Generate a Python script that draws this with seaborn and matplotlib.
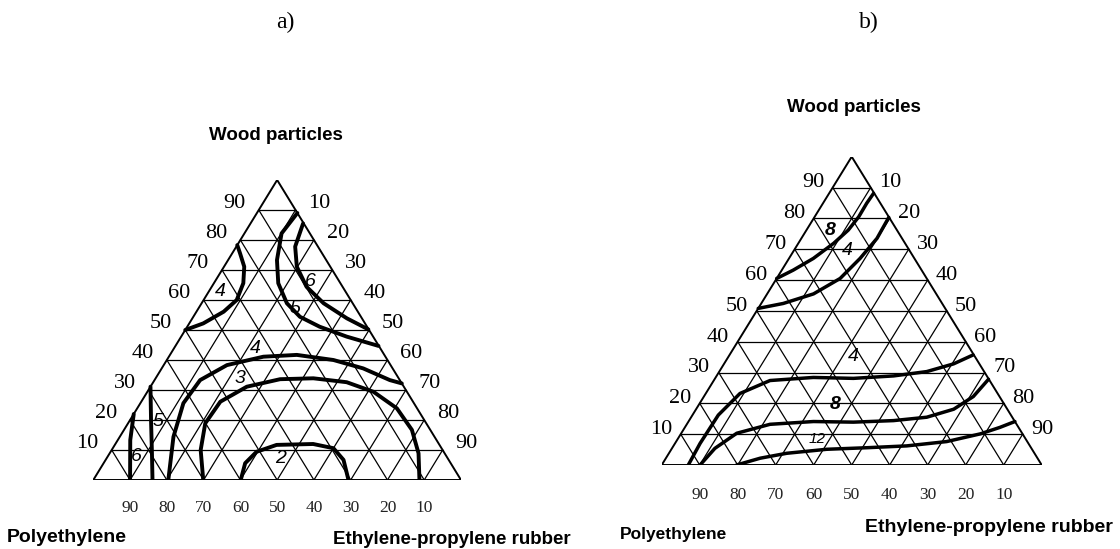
import matplotlib
matplotlib.use("Agg")
import matplotlib.pyplot as plt
import seaborn as sns

sns.set_theme(style="white")
plt.rcParams["font.family"] = ["Liberation Sans", "DejaVu Sans"]
plt.rcParams["text.color"] = "black"

# axis names and tick values
apex_name = "Wood particles"
left_name = "Polyethylene"
right_name = "Ethylene-propylene rubber"
ticks = [10, 20, 30, 40, 50, 60, 70, 80, 90]

# panel a) isolines, read as (wood %, rubber %)
a4_top_wood = [50, 52.2, 56.1, 60, 65.6, 71.1, 75.6, 78.3]
a4_top_rubber = [0, 3.8, 7.4, 9, 8, 5.5, 2.1, 0]
a5_right_wood = [89, 82.2, 73.3, 65.6, 58.9, 54.4, 51.1, 47.8, 44.7]
a5_right_rubber = [11, 10.1, 13.3, 17.5, 23.2, 29, 36, 45, 55.2]
a6_right_wood = [85.5, 77.8, 71.1, 64.4, 58.9, 53.9, 50.2]
a6_right_rubber = [14.3, 16, 19.8, 25.8, 33.2, 42, 49.7]
a4_mid_wood = [0, 14.4, 25.6, 33.3, 38.3, 41.1, 41.7, 40, 37.2, 33.3, 32.2]
a4_mid_rubber = [20.4, 14.6, 11.7, 12.4, 17.2, 25.7, 34.5, 45.3, 54.8, 64, 67.8]
a3_wood = [0, 10, 18.9, 26.1, 31.1, 33.6, 33.9, 32.6, 29.4, 23.9, 16.7, 8.9, 0]
a3_rubber = [29.9, 24.2, 21, 21.5, 26.2, 34, 42.9, 52.6, 61.5, 70.6, 78.3, 84, 88.7]
a2_wood = [0, 5.6, 9.4, 11.7, 12, 10.6, 6.7, 0]
a2_rubber = [40.1, 38.5, 39.7, 44, 53.8, 60, 64.7, 69.4]
a5_left_wood = [31.1, 20, 8.9, 0]
a5_left_rubber = [0, 5.7, 11.5, 16.1]
a6_left_wood = [22, 13.3, 0]
a6_left_rubber = [0, 3.4, 10]
a_labels = ["4", "6", "5", "4", "3", "5", "6", "2"]
a_label_wood = [62.8, 66.1, 57.2, 43.9, 33.9, 19.4, 7.8, 7.2]
a_label_rubber = [3.1, 25.9, 26.3, 22, 23, 8, 7.9, 47.2]

# panel b) isolines, read as (wood %, rubber %)
b8_top_wood = [60.5, 63.2, 67, 71.9, 76.2, 80.5, 84.9, 88.1]
b8_top_rubber = [0, 3, 6.4, 9.3, 11, 11.6, 11.5, 11.7]
b4_top_wood = [50.8, 52.4, 55.5, 60.5, 67, 73.5, 80.3]
b4_top_rubber = [0, 5.8, 12.2, 16.7, 18.7, 19.9, 19.6]
b4_low_wood = [0, 7, 16.2, 23.2, 27.4, 28.4, 28.1, 28.9, 30.3, 32.8, 35.7]
b4_low_rubber = [7, 6.6, 6.8, 9, 14.8, 25.7, 36.4, 46.6, 54.6, 60.4, 64.1]
b8_low_wood = [0, 5.4, 10.3, 13.2, 14.1, 13.9, 14.4, 15.5, 18.1, 22.2, 27.8]
b8_low_rubber = [10.1, 11.3, 14.6, 21.9, 32.9, 43.5, 53.8, 62, 67.8, 70.9, 72.1]
b12_wood = [0, 2.2, 3.8, 5.1, 5.6, 6.2, 7.6, 10.1, 12.2, 14.1]
b12_rubber = [19.7, 24.8, 31, 40.9, 51.1, 61.4, 71.2, 78.8, 82.9, 85.9]
b_labels = ["8", "4", "4", "8", "12"]
b_label_wood = [76.2, 69.7, 35.1, 19.5, 8.3]
b_label_rubber = [6.2, 13.9, 32.9, 35.9, 36.7]


def to_xy(wood, rubber):
    x = [r / 100 + w / 200 for w, r in zip(wood, rubber)]
    y = [w / 100 for w in wood]
    return x, y


def draw_frame(ax, side_gap, dy, bottom_y):
    # outer triangle
    ax.plot([0, 1, 0.5, 0], [0, 0, 1, 0], color="black", lw=1.4, solid_joinstyle="miter")
    # grid every 10 %
    for t in ticks:
        f = t / 100
        ax.plot([f / 2, 1 - f / 2], [f, f], color="black", lw=0.9)
        ax.plot([f, f + (1 - f) / 2], [0, 1 - f], color="black", lw=0.9)
        ax.plot([1 - f, (1 - f) / 2], [0, 1 - f], color="black", lw=0.9)
        ax.text(f / 2 - side_gap, f + dy, str(t), ha="right", va="center",
                family="Liberation Serif", fontsize=16)
        ax.text(1 - f / 2 + side_gap, f + dy, str(100 - t), ha="left", va="center",
                family="Liberation Serif", fontsize=16)
        ax.text(f, bottom_y, str(100 - t), ha="center", va="center",
                family="Liberation Serif", fontsize=12.5, color="#222222")
    ax.set_xlim(0, 1)
    ax.set_ylim(0, 1)
    ax.axis("off")


def draw_curve(ax, wood, rubber, lw):
    x, y = to_xy(wood, rubber)
    sns.lineplot(x=x, y=y, sort=False, estimator=None, color="black",
                 linewidth=lw, ax=ax, solid_joinstyle="round", solid_capstyle="round")


W, H = 1120, 549
fig = plt.figure(figsize=(W / 100, H / 100), dpi=100)

ax_a = fig.add_axes([93.3 / W, (H - 480) / H, (461 - 93.3) / W, 300 / H])
draw_frame(ax_a, 0.035, 0.02, -0.095)
for wd, rb in [(a4_top_wood, a4_top_rubber), (a5_right_wood, a5_right_rubber),
               (a6_right_wood, a6_right_rubber), (a4_mid_wood, a4_mid_rubber),
               (a3_wood, a3_rubber), (a2_wood, a2_rubber),
               (a5_left_wood, a5_left_rubber), (a6_left_wood, a6_left_rubber)]:
    draw_curve(ax_a, wd, rb, 2.8)
lx, ly = to_xy(a_label_wood, a_label_rubber)
for s, x, y in zip(a_labels, lx, ly):
    ax_a.text(x, y, s, ha="center", va="center", style="italic", fontsize=14)

ax_b = fig.add_axes([661.7 / W, (H - 465) / H, 380 / W, 308.3 / H])
draw_frame(ax_b, 0.022, 0.015, -0.098)
for wd, rb in [(b8_top_wood, b8_top_rubber), (b4_top_wood, b4_top_rubber),
               (b4_low_wood, b4_low_rubber), (b8_low_wood, b8_low_rubber),
               (b12_wood, b12_rubber)]:
    draw_curve(ax_b, wd, rb, 2.5)
lx, ly = to_xy(b_label_wood, b_label_rubber)
for s, x, y in zip(b_labels, lx, ly):
    ax_b.text(x, y, s, ha="center", va="center", style="italic",
              fontsize=14 if len(s) == 1 else 11, fontweight="bold" if s == "8" else "normal")

# panel letters and axis names (pixel positions)
def ftext(x, y, s, **kw):
    fig.text(x / W, 1 - y / H, s, va="center", **kw)

ftext(285, 22, "a)", ha="center", family="Liberation Serif", fontsize=17)
ftext(869, 22, "b)", ha="center", family="Liberation Serif", fontsize=17)
ftext(276, 135, apex_name, ha="center", fontweight="bold", fontsize=13.5)
ftext(854, 107, apex_name, ha="center", fontweight="bold", fontsize=13.5)
ftext(7, 538, left_name, ha="left", fontweight="bold", fontsize=14)
ftext(620, 534, left_name, ha="left", fontweight="bold", fontsize=12.5)
ftext(333, 539, right_name, ha="left", fontweight="bold", fontsize=13.5)
ftext(865, 527, right_name, ha="left", fontweight="bold", fontsize=14)

fig.savefig("out.png", dpi=100, facecolor="white")
